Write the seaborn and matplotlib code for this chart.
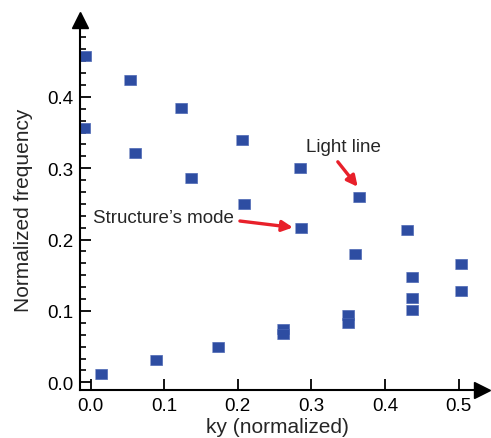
import numpy as np
import pandas as pd
import matplotlib
matplotlib.use("Agg")
import matplotlib.pyplot as plt
import matplotlib.transforms as mtransforms
from matplotlib.ticker import MultipleLocator, AutoMinorLocator
import seaborn as sns

# --------------------------
# Data
# --------------------------

ky = [
    -0.008, -0.009, -0.024, 0.053, 0.061, 0.123, 0.136, 0.206, 0.208,
    0.285, 0.286, 0.365, 0.359, 0.430, 0.437, 0.437, 0.437, 0.503,
    0.503, 0.350, 0.350, 0.261, 0.261, 0.173, 0.089, 0.014,
]
freq = [
    0.457, 0.356, 0.424, 0.423, 0.321, 0.385, 0.286, 0.340, 0.250,
    0.301, 0.216, 0.259, 0.180, 0.214, 0.148, 0.118, 0.101, 0.166,
    0.128, 0.095, 0.083, 0.075, 0.068, 0.050, 0.031, 0.011,
]

x_ticks = [0.0, 0.1, 0.2, 0.3, 0.4, 0.5]
y_ticks = [0.0, 0.1, 0.2, 0.3, 0.4]

df = pd.DataFrame({"ky": ky, "freq": freq})

# --------------------------
# Style
# --------------------------

sns.set_style("ticks")
plt.rcParams["font.family"] = ["Liberation Sans", "DejaVu Sans"]

fig = plt.figure(figsize=(4.91, 4.39), dpi=100)
W, H = 491, 439
ax_left, ax_right, ax_bottom, ax_top = 80, 475, 391, 29
ax = fig.add_axes([ax_left / W, (H - ax_bottom) / H,
                   (ax_right - ax_left) / W, (ax_bottom - ax_top) / H])

rect = [(-1, -0.8), (1, -0.8), (1, 0.8), (-1, 0.8)]

sns.scatterplot(
    data=df,
    x="ky",
    y="freq",
    marker=rect,
    s=85,
    color="#2E4DA2",
    edgecolor="#4A66B4",
    linewidth=0.5,
    ax=ax,
)

ax.set_xlim(-0.0143, 0.5224)
ax.set_ylim(-0.0108, 0.4965)

ax.set_xticks(x_ticks)
ax.set_yticks(y_ticks)
ax.yaxis.set_minor_locator(AutoMinorLocator(6))
ax.set_xticklabels([f"{v:.1f}" for v in x_ticks])
ax.set_yticklabels([f"{v:.1f}" for v in y_ticks])

ax.tick_params(axis="both", which="major", direction="in", length=8,
               width=1.3, labelsize=13.5, colors="black", pad=5)
ax.tick_params(axis="y", which="minor", direction="in", length=4.3,
               width=1.2, colors="black", left=True)

sns.despine(ax=ax)
for side in ["left", "bottom"]:
    ax.spines[side].set_linewidth(1.5)
    ax.spines[side].set_color("black")

ax.set_xlabel("ky (normalized)", fontsize=15, labelpad=2)
ax.set_ylabel("Normalized frequency", fontsize=15, labelpad=10)

# arrow heads on the axes
right_tip = mtransforms.offset_copy(ax.transAxes, fig=fig, x=7, y=0, units="dots")
top_tip = mtransforms.offset_copy(ax.transAxes, fig=fig, x=0, y=8, units="dots")
ax.plot(1, 0, marker=">", ms=11.5, color="black", transform=right_tip, clip_on=False)
ax.plot(0, 1, marker="^", ms=11.5, color="black", transform=top_tip, clip_on=False)

# --------------------------
# Annotations
# --------------------------

ax.annotate("", xy=(0.363, 0.274), xytext=(0.336, 0.309),
            arrowprops=dict(arrowstyle="-|>", color="#E8202A", lw=2.4,
                            mutation_scale=16, shrinkA=0, shrinkB=0))
ax.text(0.343, 0.330, "Light line", fontsize=13.5, ha="center", va="center")

ax.annotate("", xy=(0.275, 0.217), xytext=(0.203, 0.226),
            arrowprops=dict(arrowstyle="-|>", color="#E8202A", lw=2.4,
                            mutation_scale=16, shrinkA=0, shrinkB=0))
ax.text(0.004, 0.231, "Structure\u2019s mode", fontsize=13.5, ha="left", va="center")

fig.savefig("out.png", dpi=100)
